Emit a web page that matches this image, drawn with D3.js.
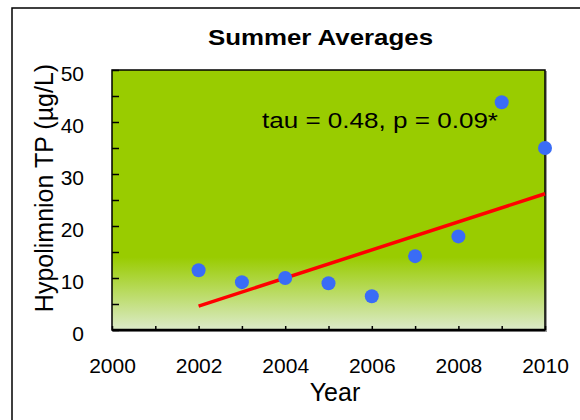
<!DOCTYPE html>
<html>
<head>
<meta charset="utf-8">
<script src="https://cdn.jsdelivr.net/npm/d3@7"></script>
<style>
  body { margin: 0; background: #fff; }
  text { font-family: Arial, "Liberation Sans", sans-serif; fill: #000; }
</style>
</head>
<body>
<svg id="chart" width="580" height="420"></svg>
<script>
// data
const years = [2002, 2003, 2004, 2005, 2006, 2007, 2008, 2009, 2010];
const tp = [11.5, 9.2, 10.0, 9.0, 6.5, 14.2, 18.0, 43.8, 35.0];
const trendYears = [2002, 2010];
const trendValues = [4.6, 26.2];
const xTickLabels = [2000, 2002, 2004, 2006, 2008, 2010];
const yTickLabels = [0, 10, 20, 30, 40, 50];
const titleText = 'Summer Averages';
const statText = 'tau = 0.48, p = 0.09*';

const svg = d3.select('#chart');
const m = {left: 112, right: 545, top: 70, bottom: 330};

const x = d3.scaleLinear().domain([2000, 2010]).range([m.left, m.right]);
const y = d3.scaleLinear().domain([0, 50]).range([m.bottom, m.top]);

// outer frame (runs off the right and bottom edges)
svg.append('rect')
    .attr('x', 12).attr('y', 8)
    .attr('width', 600).attr('height', 450)
    .attr('fill', 'none').attr('stroke', '#000').attr('stroke-width', 1.5);

// plot background: flat green fading to pale near the bottom
const grad = svg.append('defs').append('linearGradient')
    .attr('id', 'bg').attr('x1', 0).attr('y1', 0).attr('x2', 0).attr('y2', 1);
grad.append('stop').attr('offset', '0%').attr('stop-color', '#99cc00');
grad.append('stop').attr('offset', '72%').attr('stop-color', '#99cc00');
grad.append('stop').attr('offset', '100%').attr('stop-color', '#dcebca');

svg.append('rect')
    .attr('x', m.left + 1).attr('y', m.top + 1)
    .attr('width', m.right - m.left + 1).attr('height', m.bottom - m.top + 1)
    .attr('fill', '#999');
svg.append('rect')
    .attr('x', m.left).attr('y', m.top)
    .attr('width', m.right - m.left).attr('height', m.bottom - m.top)
    .attr('fill', 'url(#bg)').attr('stroke', '#000').attr('stroke-width', 1.5);

// ticks inside the plot
const yTicks = svg.append('g')
    .attr('transform', `translate(${m.left},0)`)
    .call(d3.axisLeft(y).tickValues(d3.range(0, 51, 5)).tickSize(-7).tickFormat(''));
const xTicks = svg.append('g')
    .attr('transform', `translate(0,${m.bottom})`)
    .call(d3.axisBottom(x).tickValues(d3.range(2000, 2011, 1)).tickSize(-4).tickFormat(''));
[yTicks, xTicks].forEach(g => {
    g.select('.domain').remove();
    g.selectAll('line').attr('stroke', '#000').attr('stroke-width', 1.5);
});
// heavier bottom axis line
svg.append('line')
    .attr('x1', m.left).attr('x2', m.right)
    .attr('y1', m.bottom).attr('y2', m.bottom)
    .attr('stroke', '#000').attr('stroke-width', 2.5);

// tick labels
const yLab = svg.append('g')
    .attr('transform', `translate(${m.left},0)`)
    .call(d3.axisLeft(y).tickValues(yTickLabels).tickSize(0).tickPadding(28));
const xLab = svg.append('g')
    .attr('transform', `translate(0,${m.bottom})`)
    .call(d3.axisBottom(x).tickValues(xTickLabels).tickSize(0).tickPadding(28).tickFormat(d3.format('d')));
[yLab, xLab].forEach(g => {
    g.select('.domain').remove();
    g.selectAll('text').attr('font-size', 21).attr('fill', '#000')
        .style('font-family', 'Arial, "Liberation Sans", sans-serif');
});
yLab.selectAll('text').attr('dy', '0.5em');
xLab.selectAll('text').attr('dy', '0.71em');

// trend line
const line = d3.line().x(d => x(d[0])).y(d => y(d[1]));
svg.append('path')
    .datum(d3.zip(trendYears, trendValues))
    .attr('d', line)
    .attr('fill', 'none').attr('stroke', '#ff0000').attr('stroke-width', 3.5);

// points
svg.append('g').selectAll('circle')
    .data(d3.zip(years, tp))
    .enter()
    .append('circle')
    .attr('cx', d => x(d[0]))
    .attr('cy', d => y(d[1]))
    .attr('r', 7)
    .attr('fill', '#3a6cf6');

// texts
svg.append('text')
    .attr('x', 208).attr('y', 45)
    .attr('font-size', 22).attr('font-weight', 'bold')
    .attr('textLength', 225).attr('lengthAdjust', 'spacingAndGlyphs')
    .text(titleText);

svg.append('text')
    .attr('x', 262).attr('y', 128)
    .attr('font-size', 22)
    .attr('textLength', 236).attr('lengthAdjust', 'spacingAndGlyphs')
    .text(statText);

svg.append('text')
    .attr('x', 335).attr('y', 401)
    .attr('text-anchor', 'middle')
    .attr('font-size', 25)
    .text('Year');

svg.append('text')
    .attr('transform', 'translate(53,188) rotate(-90)')
    .attr('text-anchor', 'middle')
    .attr('font-size', 25)
    .text('Hypolimnion TP (µg/L)');
</script>
</body>
</html>
